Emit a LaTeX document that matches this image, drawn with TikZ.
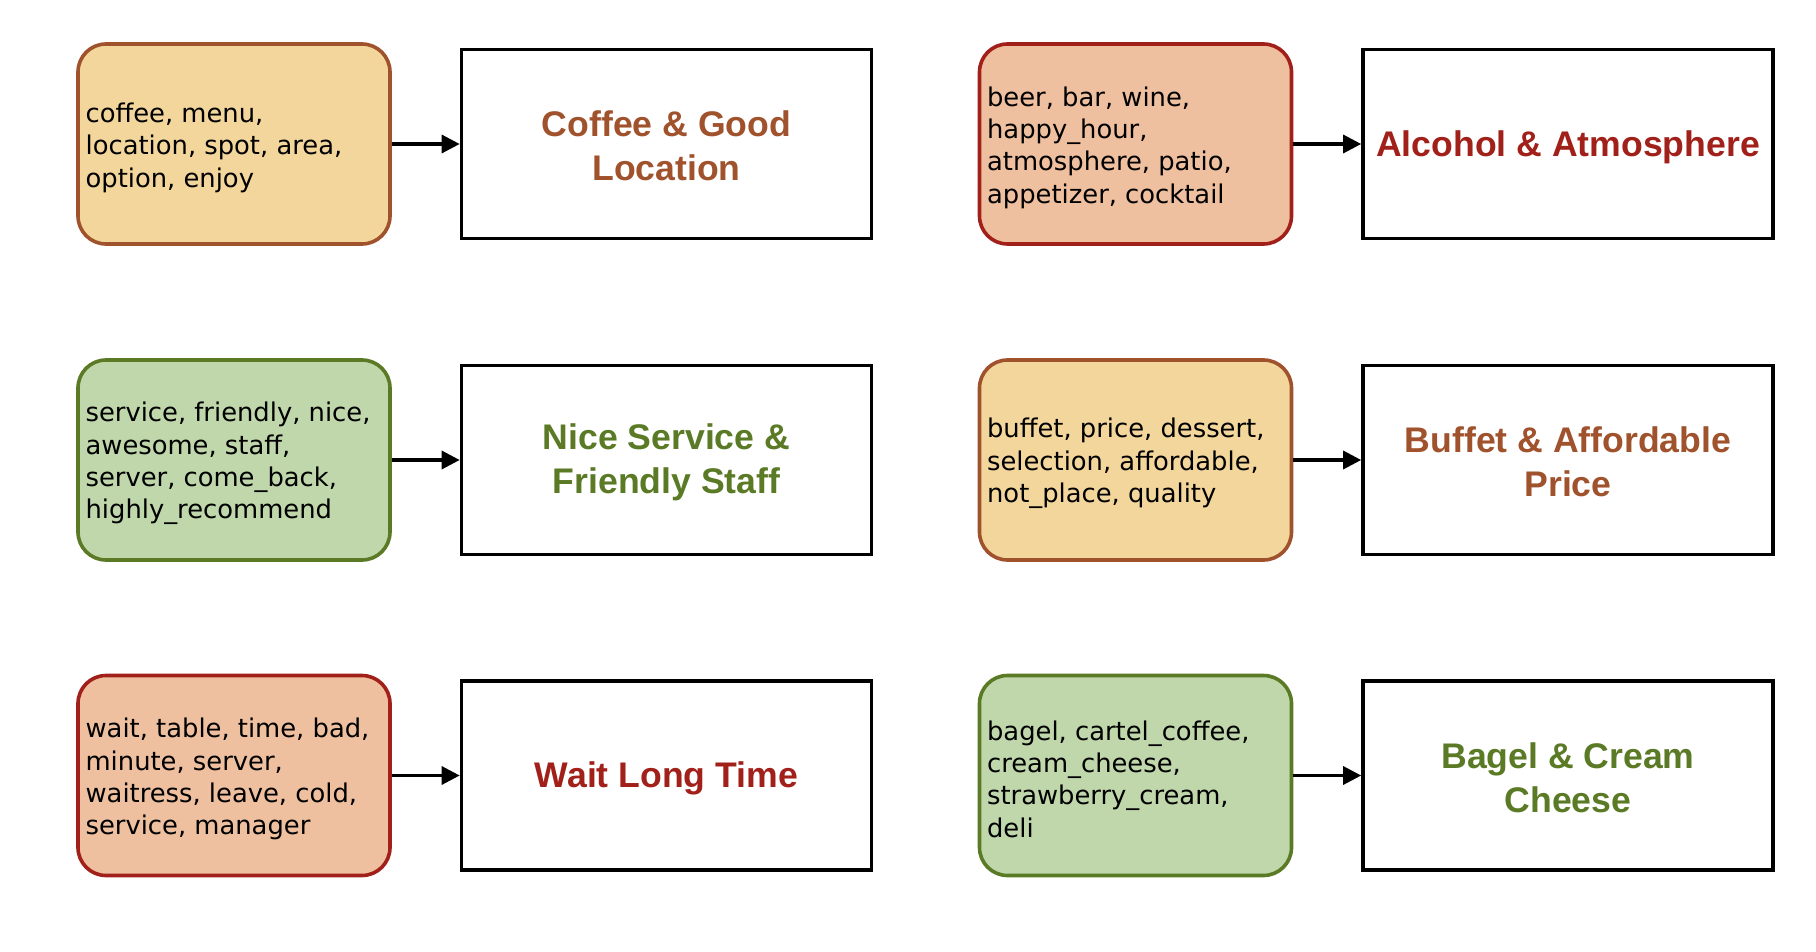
\documentclass[tikz,border=0pt]{standalone}
\usepackage{fontspec}
\newfontfamily\wordfont{DejaVu Sans}
\newfontfamily\titlefont{Liberation Sans}
\usetikzlibrary{arrows.meta}
\definecolor{oFill}{HTML}{F3D69C}
\definecolor{oLine}{HTML}{A0522D}
\definecolor{rFill}{HTML}{EFC09F}
\definecolor{rLine}{HTML}{A2201A}
\definecolor{gFill}{HTML}{BFD7AA}
\definecolor{gLine}{HTML}{5B7A25}
\tikzset{
  wordbox/.style={draw=#1Line, fill=#1Fill, line width=1.8pt, rounded corners=14pt,
    minimum width=156pt, minimum height=100pt, inner sep=0pt},
  wordtext/.style={anchor=west, align=left, inner sep=0pt,
    font=\wordfont\fontsize{12.9pt}{16.2pt}\selectfont},
  titlebox/.style={draw=black, line width=1.8pt, minimum width=205pt, minimum height=94.5pt,
    align=center, text=#1Line, font=\titlefont\bfseries\fontsize{17.8pt}{22pt}\selectfont},
  titletext/.style={align=center, inner sep=0pt, text=#1Line,
    font=\titlefont\bfseries\fontsize{17.8pt}{22pt}\selectfont},
  conn/.style={line width=1.6pt, -{Triangle[length=9pt,width=9pt]}}
}
\begin{document}
\begin{tikzpicture}[x=0.5pt,y=-0.5pt]
\path[fill=white] (0,0) rectangle (1816,952);
\useasboundingbox (0,0) rectangle (1816,952);
% row 1
\node[wordbox=o] (w1) at (234,144) {};
\node[wordtext] (t1) at ([xshift=4.5pt,yshift=-1.8pt]w1.west) {coffee, menu,\\location, spot, area,\\option, enjoy};
\node[titlebox=o] (c1) at (666.5,144) {};
\node[titletext=o] (l1) at ([yshift=-1pt]c1.center) {Coffee \& Good\\Location};
\draw[conn] (w1.east) -- (c1.west);
\node[wordbox=r] (w2) at (1135.5,144) {};
\node[wordtext] (t2) at ([xshift=4.5pt,yshift=-1.8pt]w2.west) {beer, bar, wine,\\happy\_hour,\\atmosphere, patio,\\appetizer, cocktail};
\node[titlebox=r] (c2) at (1568,144) {};
\node[titletext=r] (l2) at ([yshift=-1.5pt]c2.center) {Alcohol \& Atmosphere};
\draw[conn] (w2.east) -- (c2.west);
% row 2
\node[wordbox=g] (w3) at (234,460) {};
\node[wordtext] (t3) at ([xshift=4.5pt,yshift=-1.8pt]w3.west) {service, friendly, nice,\\awesome, staff,\\server, come\_back,\\highly\_recommend};
\node[titlebox=g] (c3) at (666.5,460) {};
\node[titletext=g] (l3) at ([yshift=-1pt]c3.center) {Nice Service \&\\Friendly Staff};
\draw[conn] (w3.east) -- (c3.west);
\node[wordbox=o] (w4) at (1135.5,460) {};
\node[wordtext] (t4) at ([xshift=4.5pt,yshift=-1.8pt]w4.west) {buffet, price, dessert,\\selection, affordable,\\not\_place, quality};
\node[titlebox=o] (c4) at (1568,460) {};
\node[titletext=o] (l4) at ([yshift=-1pt]c4.center) {Buffet \& Affordable\\Price};
\draw[conn] (w4.east) -- (c4.west);
% row 3
\node[wordbox=r] (w5) at (234,775.5) {};
\node[wordtext] (t5) at ([xshift=4.5pt,yshift=-1.8pt]w5.west) {wait, table, time, bad,\\minute, server,\\waitress, leave, cold,\\service, manager};
\node[titlebox=r] (c5) at (666.5,775.5) {};
\node[titletext=r] (l5) at ([yshift=-1.5pt]c5.center) {Wait Long Time};
\draw[conn] (w5.east) -- (c5.west);
\node[wordbox=g] (w6) at (1135.5,775.5) {};
\node[wordtext] (t6) at ([xshift=4.5pt,yshift=-1.8pt]w6.west) {bagel, cartel\_coffee,\\cream\_cheese,\\strawberry\_cream,\\deli};
\node[titlebox=g] (c6) at (1568,775.5) {};
\node[titletext=g] (l6) at ([yshift=-1pt]c6.center) {Bagel \& Cream\\Cheese};
\draw[conn] (w6.east) -- (c6.west);
\end{tikzpicture}
\end{document}
